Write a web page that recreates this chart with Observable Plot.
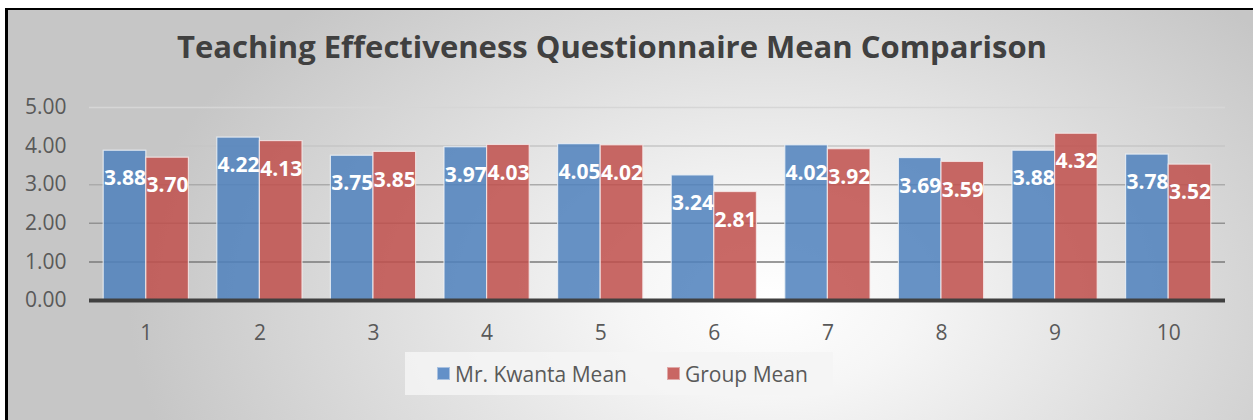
<!DOCTYPE html>
<html>
<head>
<meta charset="utf-8">
<script src="https://cdn.jsdelivr.net/npm/d3@7"></script>
<script src="https://cdn.jsdelivr.net/npm/@observablehq/plot@0.6"></script>
<style>
  html, body { margin: 0; padding: 0; background: #ffffff; width: 1253px; height: 420px; overflow: hidden; position: relative; }
  #frame {
    position: absolute; left: 5px; top: 8px; width: 1280px; height: 430px;
    border-left: 3px solid #000; border-top: 2px solid #000;
    background: radial-gradient(ellipse 640px 420px at 760px 290px, #ffffff 0%, #f6f6f6 22%, #dedede 60%, #c6c6c6 100%);
  }
  #title {
    position: absolute; left: 0; top: 26px; width: 1224px; text-align: center;
    font-family: "Open Sans", sans-serif; font-weight: bold; font-size: 31px; color: #404040;
    line-height: 40px; white-space: nowrap;
  }
  #chart { position: absolute; left: 0; top: 90px; }
  #legend {
    position: absolute; left: 405px; top: 352px; width: 428px; height: 43px;
    background: rgba(244,244,244,0.85);
    font-family: "Open Sans", sans-serif; font-size: 21px; color: #595959;
    display: flex; align-items: center;
  }
  .sw { width: 13px; height: 13px; display: inline-block; box-sizing: border-box; }
  .item { display: flex; align-items: center; }
</style>
</head>
<body>
<div id="frame"></div>
<div id="title">Teaching Effectiveness Questionnaire Mean Comparison</div>
<div id="chart"></div>
<div id="legend"></div>
<script>
// ---- data ----
const categories = ["1", "2", "3", "4", "5", "6", "7", "8", "9", "10"];
const kwantaMean = [3.88, 4.22, 3.75, 3.97, 4.05, 3.24, 4.02, 3.69, 3.88, 3.78];
const groupMean  = [3.70, 4.13, 3.85, 4.03, 4.02, 2.81, 3.92, 3.59, 4.32, 3.52];
const seriesNames = ["Mr. Kwanta Mean", "Group Mean"];
const yTicks = [0, 1, 2, 3, 4, 5];
const gridValues = [1, 2, 3, 4, 5];

// ---- styles ----
const colors = ["#4f81bd", "#c0504d"];
const swatchColors = ["#6390c8", "#c96663"];
const gridColors = {1: "#7a7a7a", 2: "#929292", 3: "#ababab", 4: "#c6c6c6", 5: "#d6d6d6"};

const width = 1253, height = 260;
const marginLeft = 89, marginRight = 28, marginTop = 17, marginBottom = 50;
const paddingInner = 0.25, paddingOuter = 0.125;
const step = (width - marginLeft - marginRight) / (categories.length - paddingInner + 2 * paddingOuter);
const bandwidth = step * (1 - paddingInner);
const half = bandwidth / 2;

const rows = [];
categories.forEach((c, i) => {
  rows.push({cat: c, series: seriesNames[0], value: kwantaMean[i]});
  rows.push({cat: c, series: seriesNames[1], value: groupMean[i]});
});
const rowsA = rows.filter(d => d.series === seriesNames[0]);
const rowsB = rows.filter(d => d.series === seriesNames[1]);

const plot = Plot.plot({
  width, height, marginLeft, marginRight, marginTop, marginBottom,
  style: {fontFamily: "Open Sans, sans-serif", fontSize: "21px", color: "#595959", background: "transparent", overflow: "visible"},
  x: {domain: categories, type: "band", paddingInner, paddingOuter, round: false, label: null, tickSize: 0, tickPadding: 25},
  y: {domain: [0, 5], label: null, ticks: yTicks, tickFormat: d3.format(".2f"), tickSize: 0, tickPadding: 23},
  marks: [
    Plot.ruleY(gridValues, {y: d => d, stroke: d => gridColors[d], strokeWidth: 1.5}),
    Plot.barY(rowsA, {x: "cat", y: "value", fill: colors[0], fillOpacity: 0.86, insetRight: half, stroke: "#eef2f8", strokeOpacity: 0.8, strokeWidth: 1.2}),
    Plot.barY(rowsB, {x: "cat", y: "value", fill: colors[1], fillOpacity: 0.86, insetLeft: half, stroke: "#f6eaea", strokeOpacity: 0.8, strokeWidth: 1.2}),
    Plot.ruleY([0], {stroke: "#404040", strokeWidth: 4}),
    Plot.text(rowsA, {x: "cat", y: "value", text: d => d3.format(".2f")(d.value), dx: -half / 2, dy: 28, fill: "white", fontWeight: "bold", fontSize: 21}),
    Plot.text(rowsB, {x: "cat", y: "value", text: d => d3.format(".2f")(d.value), dx: half / 2, dy: 28, fill: "white", fontWeight: "bold", fontSize: 21})
  ]
});
document.getElementById("chart").appendChild(plot);

// ---- legend ----
const legend = document.getElementById("legend");
seriesNames.forEach((name, i) => {
  const item = document.createElement("div");
  item.className = "item";
  item.style.marginLeft = i === 0 ? "32px" : "40px";
  const sw = document.createElement("span");
  sw.className = "sw";
  sw.style.background = swatchColors[i];
  sw.style.border = "1px solid " + (i === 0 ? "#a9c1e0" : "#e0a9a8");
  const label = document.createElement("span");
  label.textContent = name;
  label.style.marginLeft = "5px";
  item.appendChild(sw);
  item.appendChild(label);
  legend.appendChild(item);
});
</script>
</body>
</html>
